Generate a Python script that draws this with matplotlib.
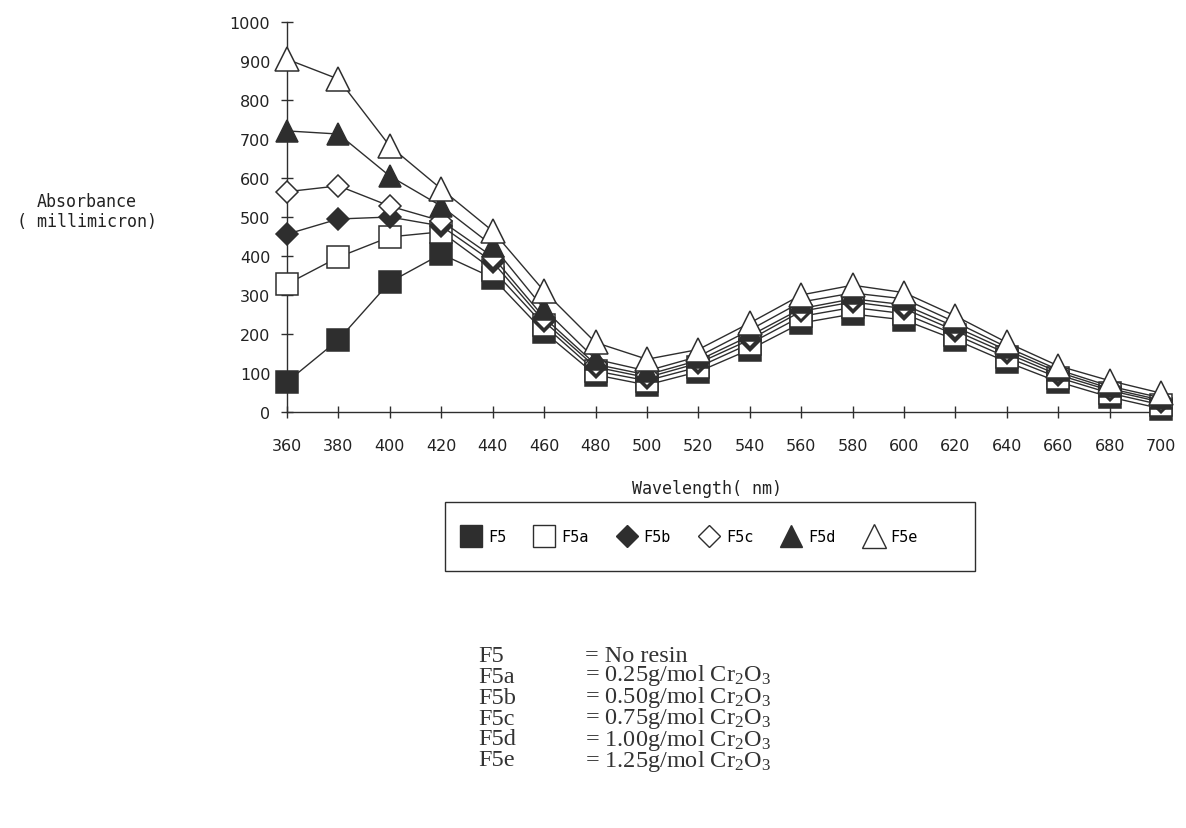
import matplotlib
matplotlib.use("Agg")
import matplotlib.pyplot as plt
from matplotlib.lines import Line2D
from matplotlib.patches import Rectangle

# Wavelength (nm)
wavelength = [360, 380, 400, 420, 440, 460, 480, 500, 520, 540, 560, 580,
              600, 620, 640, 660, 680, 700]

# Absorbance for each formulation
f5 = [77, 185, 333, 405, 344, 205, 95, 69, 103, 160, 228, 251, 236, 185, 128, 77, 38, 8]
f5a = [328, 397, 449, 462, 365, 222, 105, 80, 115, 175, 245, 268, 252, 198, 140, 88, 48, 18]
f5b = [456, 495, 500, 477, 385, 232, 115, 88, 125, 185, 258, 282, 265, 208, 150, 95, 55, 25]
f5c = [565, 580, 528, 490, 398, 242, 122, 95, 132, 195, 265, 290, 275, 218, 158, 102, 60, 30]
f5d = [721, 713, 605, 528, 426, 264, 135, 105, 142, 210, 282, 305, 290, 230, 166, 108, 66, 36]
f5e = [905, 854, 682, 572, 464, 310, 178, 135, 160, 228, 300, 325, 306, 246, 178, 118, 80, 48]

series_names = ["F5", "F5a", "F5b", "F5c", "F5d", "F5e"]
descriptions = ["No resin",
                "0.25g/mol Cr$_2$O$_3$",
                "0.50g/mol Cr$_2$O$_3$",
                "0.75g/mol Cr$_2$O$_3$",
                "1.00g/mol Cr$_2$O$_3$",
                "1.25g/mol Cr$_2$O$_3$"]

ink = "#2e2e2e"
styles = [
    dict(marker="s", mfc=ink, ms=15.5),
    dict(marker="s", mfc="white", ms=15.5),
    dict(marker="D", mfc=ink, ms=11.5),
    dict(marker="D", mfc="white", ms=11.5),
    dict(marker="^", mfc=ink, ms=16.5),
    dict(marker="^", mfc="white", ms=17),
]

plt.rcParams["mathtext.fontset"] = "custom"
plt.rcParams["mathtext.rm"] = "Liberation Serif"
plt.rcParams["mathtext.it"] = "Liberation Serif:italic"

fig = plt.figure(figsize=(11.86, 8.29), dpi=100)
fig.patch.set_facecolor("white")
ax = fig.add_axes([0.242, 0.502, 0.737, 0.470])

all_series = [f5, f5a, f5b, f5c, f5d, f5e]
for i, (vals, st) in enumerate(zip(all_series, styles)):
    ax.plot(wavelength, vals, color=ink, lw=1.0, marker=st["marker"],
            mfc=st["mfc"], mec=ink, mew=1.1, ms=st["ms"], clip_on=False,
            zorder=3 + i)

ax.set_xlim(360, 700)
ax.set_ylim(0, 1000)
ax.set_xticks(wavelength)
ax.set_yticks(range(0, 1001, 100))
for side in ("top", "right"):
    ax.spines[side].set_visible(False)
for side in ("left", "bottom"):
    ax.spines[side].set_color(ink)
    ax.spines[side].set_linewidth(1.0)
ax.tick_params(axis="both", direction="inout", length=8, width=1.0,
               color=ink, labelcolor="#222222", labelsize=11.5)
ax.tick_params(axis="x", pad=15)
ax.tick_params(axis="y", pad=8)
for lab in ax.get_xticklabels() + ax.get_yticklabels():
    lab.set_family("DejaVu Sans")

fig.text(0.0735, 0.744, "Absorbance\n( millimicron)", ha="center", va="center",
         family="DejaVu Sans Mono", fontsize=12, color="#222222",
         linespacing=1.15)
fig.text(0.596, 0.410, "Wavelength( nm)", ha="center", va="center",
         family="DejaVu Sans Mono", fontsize=12, color="#222222")

# Legend box with one row of marker keys
W, H = 1186.0, 829.0
fig.patches.append(Rectangle((445 / W, 1 - 572 / H), 530 / W, 69 / H,
                             transform=fig.transFigure, fill=False,
                             edgecolor=ink, lw=1.0))
handles = [Line2D([], [], ls="none", marker=st["marker"], mfc=st["mfc"],
                  mec=ink, mew=1.0, ms=st["ms"])
           for st in styles]
leg = fig.legend(handles, series_names, loc="center left",
                 bbox_to_anchor=(452 / W, 1 - 537.5 / H), ncol=6,
                 frameon=False, handlelength=1.5, handletextpad=0.35,
                 columnspacing=1.75, borderpad=0.0,
                 prop=dict(family="DejaVu Sans Mono", size=11))

# Key for the formulations, set as two tightly spaced columns
key_top = 1 - 646 / H
key_font = dict(family="Liberation Serif", fontsize=17.5, color="#333333",
                va="top", ha="left")
fig.text(478 / W, key_top, "\n".join(series_names), linespacing=0.99,
         **key_font)
fig.text(585 / W, key_top, "\n".join("= " + d for d in descriptions),
         linespacing=0.8, **key_font)

fig.savefig("out.png", dpi=100)
